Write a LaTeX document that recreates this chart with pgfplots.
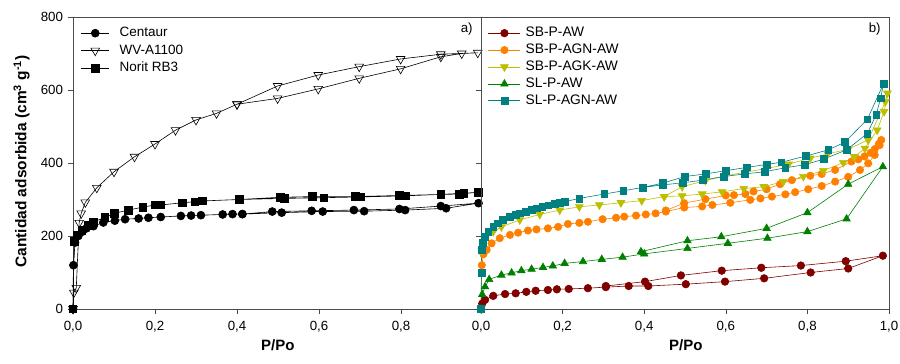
\documentclass[border=0pt]{standalone}
\usepackage{fontspec}
\setmainfont{Liberation Sans}
\usepackage{pgfplots}
\pgfplotsset{compat=1.18}
\definecolor{cRed}{RGB}{128,0,0}
\definecolor{cOrange}{RGB}{255,128,0}
\definecolor{cYellow}{RGB}{190,190,0}
\definecolor{cGreen}{RGB}{0,128,0}
\definecolor{cTeal}{RGB}{0,128,128}
\begin{document}
\begin{tikzpicture}
\path[use as bounding box] (-73pt,-55pt) rectangle (827pt,309pt);
\pgfplotsset{
  every axis/.append style={
    scale only axis, width=408pt, height=292pt,
    ymin=0, ymax=800, ytick={0,200,...,800},
    tick align=outside, tick pos=left,
    major tick length=5pt,
    axis line style={draw=black!70, line width=0.6pt},
    every tick/.style={black!70, line width=0.6pt},
    tick label style={font=\fontsize{13.3}{15}\selectfont},
    /pgf/number format/assume math mode=true,
    x tick label style={yshift=-3.5pt, /pgf/number format/.cd, use comma, fixed, fixed zerofill, precision=1, /tikz/.cd},
    y tick label style={xshift=-1.5pt},
    xlabel style={at={(axis description cs:0.502,-0.123)}, anchor=center, font=\fontsize{15}{17}\selectfont\bfseries},
    clip=false,
    legend cell align=left,
  }
}
\begin{axis}[at={(0,0)}, anchor=south west, xmin=0, xmax=0.995, xtick={0,0.2,0.4,0.6,0.8},
  xlabel={P/Po},
  ylabel={\textbf{Cantidad adsorbida (cm\textsuperscript{3} g\textsuperscript{-1})}},
  ylabel style={at={(axis description cs:-0.126,0.505)}, anchor=center, font=\fontsize{15.5}{17}\selectfont},
  legend style={draw=none, fill=none, font=\fontsize{13.5}{15}\selectfont, inner sep=0pt, row sep=2.5pt,
      nodes={text height=10pt, text depth=3pt, inner sep=1pt},
      /tikz/every odd column/.append style={column sep=9pt},
      at={(rel axis cs:0.019,0.971)}, anchor=north west},
  legend image code/.code={\draw[mark repeat=2,mark phase=2,#1] plot coordinates {(0pt,0pt) (14pt,0pt) (28pt,0pt)};}]
\addplot[black, line width=0.6pt, mark=*, mark size=4pt] coordinates {
(0,0) (0.001,120) (0.005,182) (0.013,200) (0.023,212) (0.033,221) (0.05,227) (0.074,237) (0.102,242) (0.127,246) (0.16,248) (0.184,250) (0.214,252) (0.263,255) (0.288,256) (0.312,257) (0.365,259) (0.389,260) (0.413,260) (0.509,264) (0.609,267) (0.71,268) (0.81,271) (0.91,276) (0.989,290)
(0.897,282) (0.796,274) (0.685,271) (0.582,269) (0.486,267) (0.413,260)};
\addlegendentry{Centaur}
\addplot[black, line width=0.6pt, mark=triangle, mark size=5pt, mark options={rotate=180, fill=white}] coordinates {
(0,0) (0.002,45) (0.008,58) (0.015,236) (0.02,262) (0.03,292) (0.058,332) (0.10,376) (0.15,417) (0.2,452) (0.25,490) (0.30,518) (0.35,536) (0.40,561) (0.499,577) (0.598,603) (0.698,632) (0.799,658) (0.897,691) (0.948,700) (0.987,702)
(0.897,698) (0.799,685) (0.698,664) (0.598,641) (0.499,611) (0.40,561)};
\addlegendentry{WV-A1100}
\addplot[black, line width=0.6pt, mark=square*, mark size=3.8pt] coordinates {
(0,0) (0.003,185) (0.009,203) (0.021,216) (0.037,230) (0.05,239) (0.078,251) (0.10,262) (0.135,271) (0.17,279) (0.2,285) (0.214,285) (0.267,291) (0.297,294) (0.315,296) (0.405,300) (0.515,303) (0.612,305) (0.70,307) (0.81,310) (0.897,314) (0.953,317) (0.989,320)
(0.942,315) (0.796,311) (0.688,308) (0.584,308) (0.505,306) (0.405,300)};
\addlegendentry{Norit RB3}
\node[anchor=east, font=\fontsize{13.3}{15}\selectfont] at (rel axis cs:0.988,0.959) {a)};
\end{axis}
\begin{axis}[at={(408pt,0)}, anchor=south west, xmin=0, xmax=1.0, xtick={0,0.2,...,1.0},
  yticklabels={},
  xlabel={P/Po},
  legend style={draw=none, fill=none, font=\fontsize{13.8}{15}\selectfont, inner sep=0pt, row sep=1.9pt,
      nodes={text height=10pt, text depth=3pt, inner sep=1pt},
      /tikz/every odd column/.append style={column sep=4pt},
      at={(rel axis cs:0.017,0.971)}, anchor=north west},
  legend image code/.code={\draw[mark repeat=2,mark phase=2,#1] plot coordinates {(0pt,0pt) (16pt,0pt) (32pt,0pt)};}]
\addplot[cRed, line width=0.6pt, mark=*, mark size=3.8pt] coordinates {
(0,0) (0.003,15) (0.01,25) (0.03,36) (0.059,41) (0.085,43) (0.111,47) (0.134,50) (0.164,52) (0.186,54) (0.215,55) (0.262,57) (0.306,60) (0.362,63) (0.41,63) (0.502,68) (0.598,75) (0.694,84) (0.808,100) (0.90,111) (0.985,146)
(0.894,131) (0.784,119) (0.687,113) (0.59,105) (0.49,92) (0.402,75) (0.306,63)};
\addlegendentry{SB-P-AW}
\addplot[cOrange, line width=0.6pt, mark=*, mark size=3.7pt] coordinates {
(0,0) (0.002,120) (0.006,150) (0.014,162) (0.026,180) (0.046,194) (0.071,203) (0.091,209) (0.115,215) (0.136,218) (0.164,221) (0.189,225) (0.213,233) (0.241,236) (0.262,239) (0.298,246) (0.331,250) (0.351,253) (0.38,256) (0.404,259) (0.428,262) (0.453,267) (0.498,278) (0.542,281) (0.567,285) (0.611,291) (0.66,299) (0.685,303) (0.713,308) (0.746,314) (0.77,320) (0.802,328) (0.835,337) (0.868,349) (0.90,362) (0.929,381) (0.949,399) (0.965,422) (0.977,449) (0.981,463)
(0.975,452) (0.965,438) (0.955,428) (0.94,418) (0.925,410) (0.908,404) (0.868,381) (0.835,370) (0.807,365) (0.762,353) (0.733,342) (0.70,328) (0.668,322) (0.648,315) (0.62,312) (0.60,311) (0.55,301) (0.498,290) (0.453,270)};
\addlegendentry{SB-P-AGN-AW}
\addplot[cYellow, line width=0.6pt, mark=triangle*, mark size=4.5pt, mark options={rotate=180}] coordinates {
(0,0) (0.002,160) (0.01,190) (0.03,212) (0.05,225) (0.095,244) (0.144,259) (0.193,271) (0.241,280) (0.29,285) (0.343,291) (0.394,297) (0.449,308) (0.493,310) (0.542,315) (0.591,321) (0.644,330) (0.693,335) (0.741,349) (0.79,363) (0.839,379) (0.888,401) (0.915,417) (0.941,440) (0.971,490) (0.988,541) (0.996,591)
(0.991,568) (0.949,463) (0.90,438) (0.85,425) (0.807,413) (0.754,397) (0.70,385) (0.65,375) (0.60,365) (0.55,352) (0.493,335) (0.449,308)};
\addlegendentry{SB-P-AGK-AW}
\addplot[cGreen, line width=0.6pt, mark=triangle*, mark size=4.3pt] coordinates {
(0,0) (0.003,40) (0.01,61) (0.02,81) (0.05,93) (0.075,99) (0.099,105) (0.124,109) (0.152,114) (0.176,118) (0.205,125) (0.25,130) (0.296,136) (0.347,142) (0.40,151) (0.506,166) (0.605,180) (0.702,194) (0.80,212) (0.896,247) (0.985,390)
(0.90,342) (0.80,264) (0.70,221) (0.589,198) (0.506,187) (0.392,157)};
\addlegendentry{SL-P-AW}
\addplot[cTeal, line width=0.6pt, mark=square*, mark size=3.4pt] coordinates {
(0,0) (0.001,100) (0.002,162) (0.005,182) (0.01,198) (0.018,212) (0.03,225) (0.042,235) (0.054,244) (0.07,252) (0.085,258) (0.095,262) (0.11,267) (0.125,272) (0.136,276) (0.15,280) (0.165,284) (0.18,288) (0.193,291) (0.205,294) (0.241,303) (0.302,315) (0.349,324) (0.396,333) (0.446,340) (0.495,346) (0.544,353) (0.595,363) (0.646,370) (0.695,376) (0.746,387) (0.793,395) (0.841,411) (0.896,436) (0.947,481) (0.969,533) (0.979,577) (0.987,618)
(0.947,520) (0.892,457) (0.851,436) (0.796,419) (0.736,402) (0.70,396) (0.652,388) (0.60,379) (0.55,370) (0.50,363) (0.446,345) (0.396,333)};
\addlegendentry{SL-P-AGN-AW}
\node[anchor=east, font=\fontsize{13.3}{15}\selectfont] at (rel axis cs:0.988,0.959) {b)};
\end{axis}
\end{tikzpicture}
\end{document}
